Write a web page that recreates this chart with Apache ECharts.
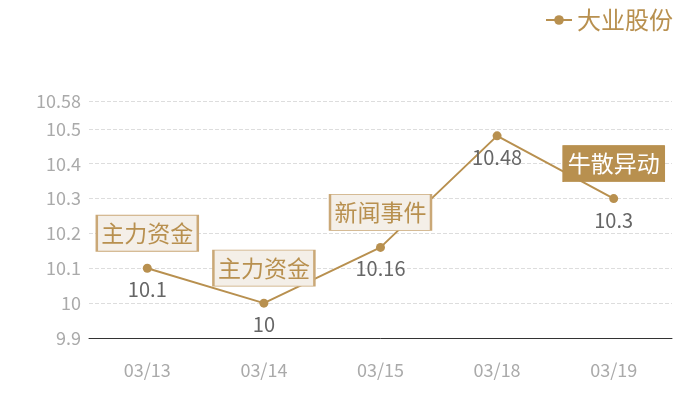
<!DOCTYPE html>
<html>
<head>
<meta charset="utf-8">
<script src="https://cdn.jsdelivr.net/npm/echarts@6/dist/echarts.min.js"></script>
<style>html,body{margin:0;padding:0;background:#fff}#c{width:700px;height:400px}</style>
</head>
<body>
<div id="c"></div>
<script>
var categories = ['03/13', '03/14', '03/15', '03/18', '03/19'];
var values = [10.1, 10, 10.16, 10.48, 10.3];
var seriesName = '大业股份';
var annotationIndex = [0, 1, 2, 4];
var annotationText = ['主力资金', '主力资金', '新闻事件', '牛散异动'];
var annotationSolid = [false, false, false, true];

var gold = '#b8904f';
var font = '"Noto Sans CJK SC", "Noto Sans", sans-serif';

var markData = annotationIndex.map(function (idx, i) {
  var solid = annotationSolid[i];
  return {
    coord: [categories[idx], values[idx]],
    value: annotationText[i],
    itemStyle: solid ? { color: gold, borderColor: gold, borderWidth: 1 }
                     : { color: '#f4efe8', borderColor: '#caa877', borderWidth: 1.5 },
    label: { color: solid ? '#ffffff' : '#b8904f' }
  };
});

var chart = echarts.init(document.getElementById('c'));
chart.setOption({
  animation: false,
  textStyle: { fontFamily: font },
  legend: {
    right: 22, top: 3,
    itemWidth: 26, itemHeight: 12,
    itemGap: 10,
    textStyle: { fontSize: 24, color: gold, fontFamily: font },
    data: [seriesName]
  },
  grid: { left: 89, right: 28, top: 101, bottom: 62 },
  xAxis: {
    type: 'category',
    data: categories,
    axisLine: { lineStyle: { color: '#333', width: 1 } },
    axisTick: { show: false },
    axisLabel: { color: '#aaa', fontSize: 18, margin: 23, fontFamily: font }
  },
  yAxis: {
    type: 'value',
    min: 9.9, max: 10.58, interval: 0.1,
    axisLine: { show: false },
    axisTick: { show: false },
    axisLabel: { color: '#aaa', fontSize: 18, margin: 8, fontFamily: font,
      formatter: function (v) { return String(Math.round(v * 100) / 100); } },
    splitLine: { lineStyle: { color: '#ddd', type: 'dashed' } }
  },
  series: [{
    name: seriesName,
    type: 'line',
    data: values,
    symbol: 'circle',
    symbolSize: 9,
    itemStyle: { color: gold },
    lineStyle: { color: gold, width: 2 },
    label: { show: true, position: 'bottom', distance: 7, color: '#666', fontSize: 20, fontFamily: font },
    markPoint: {
      symbol: 'rect',
      symbolSize: [101, 36],
      symbolOffset: [0, -35],
      label: { show: true, position: 'inside', fontSize: 23, fontFamily: font,
        formatter: function (p) { return p.data.value; } },
      data: markData
    }
  }]
});
</script>
</body>
</html>
